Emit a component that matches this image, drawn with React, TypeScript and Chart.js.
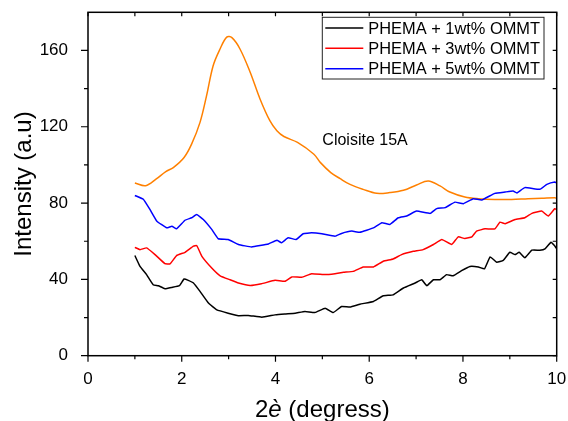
import React, { useEffect, useRef } from "react";
import { Chart, registerables } from "chart.js";

Chart.register(...registerables);

// ---------- data ----------
const xTickValues = [0, 2, 4, 6, 8, 10];
const xMinorTicks = [1, 3, 5, 7, 9];
const yTickValues = [0, 40, 80, 120, 160];
const yMinorTicks = [20, 60, 100, 140];

const xAxisTitleParts = ["2", "è", " (degress)"];
const yAxisTitle = "Intensity (a.u)";

const legendLabels = ["PHEMA + 1wt% OMMT", "PHEMA + 3wt% OMMT", "PHEMA + 5wt% OMMT"];
const cloisiteLabel = "Cloisite 15A";
const cloisiteLabelX = 5.0;
const cloisiteLabelY = 113;

const xBlack = [1.0, 1.11, 1.25, 1.39, 1.5, 1.64, 1.79, 1.95, 2.05, 2.14, 2.25, 2.39, 2.57, 2.75, 2.99, 3.21, 3.42, 3.71, 3.99, 4.2, 4.42, 4.63, 4.84, 5.06, 5.23, 5.41, 5.59, 5.8, 6.09, 6.3, 6.51, 6.73, 6.98, 7.12, 7.23, 7.37, 7.51, 7.65, 7.79, 7.97, 8.15, 8.33, 8.46, 8.58, 8.72, 8.86, 9.0, 9.11, 9.2, 9.32, 9.47, 9.64, 9.75, 9.88, 9.96, 10.0];
const yBlack = [52.5, 46.8, 42.5, 37.2, 36.7, 35.1, 35.8, 36.7, 40.2, 39.5, 38.1, 33.7, 27.6, 24.0, 22.3, 21.0, 21.1, 20.2, 21.4, 21.9, 22.3, 23.2, 22.6, 24.9, 22.6, 25.8, 25.5, 27.0, 28.4, 31.4, 31.9, 35.5, 38.1, 39.8, 36.7, 39.8, 39.8, 42.5, 41.9, 44.6, 46.8, 46.5, 45.5, 51.8, 49.0, 50.0, 54.2, 53.0, 54.2, 51.3, 55.3, 55.3, 56.0, 59.5, 57.5, 56.0];

const xRed = [1.0, 1.11, 1.25, 1.43, 1.64, 1.75, 1.89, 2.07, 2.25, 2.32, 2.43, 2.64, 2.82, 3.03, 3.21, 3.46, 3.7, 3.99, 4.2, 4.35, 4.56, 4.77, 5.06, 5.27, 5.45, 5.66, 5.87, 6.09, 6.3, 6.51, 6.69, 6.94, 7.15, 7.37, 7.55, 7.76, 7.9, 8.04, 8.19, 8.29, 8.47, 8.68, 8.79, 8.9, 9.11, 9.32, 9.47, 9.68, 9.82, 9.96, 10.0];
const yRed = [56.8, 55.6, 56.5, 53.0, 48.3, 48.1, 52.5, 54.2, 57.4, 57.7, 52.1, 46.0, 41.9, 39.8, 38.1, 36.8, 37.7, 39.5, 39.0, 41.3, 41.1, 43.0, 42.5, 43.0, 43.7, 44.2, 46.5, 46.5, 49.5, 50.7, 53.0, 54.7, 55.6, 58.3, 60.9, 58.3, 62.3, 61.4, 62.3, 65.3, 66.5, 66.5, 70.0, 69.2, 71.4, 72.3, 74.6, 75.8, 73.2, 77.1, 76.5];

const xBlue = [1.0, 1.18, 1.32, 1.47, 1.68, 1.79, 1.89, 2.07, 2.21, 2.32, 2.46, 2.64, 2.78, 2.99, 3.21, 3.49, 3.85, 4.03, 4.13, 4.27, 4.44, 4.59, 4.77, 4.99, 5.27, 5.41, 5.63, 5.8, 6.09, 6.27, 6.44, 6.62, 6.8, 7.01, 7.3, 7.44, 7.62, 7.83, 8.01, 8.22, 8.4, 8.68, 8.9, 9.07, 9.15, 9.32, 9.64, 9.79, 9.96, 10.0];
const yBlue = [84.0, 82.0, 76.7, 70.5, 67.0, 67.9, 66.5, 71.0, 72.3, 74.0, 71.4, 66.2, 61.3, 60.9, 58.3, 57.0, 58.6, 60.5, 59.2, 61.8, 60.9, 63.9, 64.4, 63.9, 62.6, 64.1, 65.3, 64.7, 67.0, 69.7, 68.8, 72.3, 73.2, 75.8, 74.6, 77.1, 77.6, 80.5, 79.7, 82.3, 81.6, 85.1, 85.8, 86.3, 85.3, 88.1, 87.2, 89.8, 91.0, 90.5];

const xOrange = [1.0, 1.23, 1.45, 1.66, 1.82, 2.05, 2.21, 2.39, 2.53, 2.67, 2.82, 2.96, 3.07, 3.24, 3.46, 3.67, 3.88, 4.03, 4.18, 4.47, 4.82, 4.96, 5.18, 5.38, 5.59, 5.87, 6.16, 6.44, 6.73, 7.01, 7.26, 7.51, 7.72, 8.04, 8.33, 8.68, 9.04, 9.39, 9.68, 9.96, 10.0];
const yOrange = [90.5, 89.1, 92.5, 96.5, 98.6, 103.9, 110.9, 122.3, 136.3, 152.0, 160.9, 167.0, 166.7, 160.9, 148.6, 134.6, 123.2, 117.9, 114.9, 111.8, 105.6, 101.2, 96.0, 92.8, 89.8, 87.2, 85.1, 85.5, 86.7, 89.5, 91.6, 89.0, 85.8, 83.2, 82.3, 81.9, 81.9, 82.3, 82.5, 82.8, 82.5];

const FONT = "'Liberation Sans', Arial, Helvetica, sans-serif";

const toPoints = (xs: number[], ys: number[]) => xs.map((x, i) => ({ x, y: ys[i] }));

const decorPlugin = {
  id: "decor",
  afterDatasetsDraw(chart: any) {
    const ctx = chart.ctx as CanvasRenderingContext2D;
    const { left, right, top, bottom } = chart.chartArea;
    const xs = chart.scales.x;
    const ys = chart.scales.y;
    ctx.save();
    ctx.strokeStyle = "#000";
    ctx.lineWidth = 1.5;
    ctx.strokeRect(left, top, right - left, bottom - top);
    ctx.lineWidth = 1.2;
    ctx.beginPath();
    const tick = (x1: number, y1: number, x2: number, y2: number) => {
      ctx.moveTo(x1, y1);
      ctx.lineTo(x2, y2);
    };
    xTickValues.forEach((v) => {
      const p = xs.getPixelForValue(v);
      tick(p, bottom, p, bottom + 6);
      tick(p, top, p, top + 4);
    });
    xMinorTicks.forEach((v) => {
      const p = xs.getPixelForValue(v);
      tick(p, bottom, p, bottom + 3.5);
      tick(p, top, p, top + 4);
    });
    yTickValues.forEach((v) => {
      const p = ys.getPixelForValue(v);
      tick(left, p, left - 7, p);
      tick(right, p, right - 4, p);
    });
    yMinorTicks.forEach((v) => {
      const p = ys.getPixelForValue(v);
      tick(left, p, left - 4, p);
      tick(right, p, right - 4, p);
    });
    ctx.stroke();

    ctx.fillStyle = "#000";
    ctx.font = `16px ${FONT}`;
    ctx.textAlign = "left";
    ctx.textBaseline = "middle";
    ctx.fillText(cloisiteLabel, xs.getPixelForValue(cloisiteLabelX), ys.getPixelForValue(cloisiteLabelY));

    // x axis title with italic theta substitute
    const fonts = [`24px ${FONT}`, `italic 24px ${FONT}`, `24px ${FONT}`];
    let total = 0;
    const widths = xAxisTitleParts.map((t, i) => {
      ctx.font = fonts[i];
      const w = ctx.measureText(t).width;
      total += w;
      return w;
    });
    let tx = (left + right) / 2 - total / 2;
    ctx.textBaseline = "alphabetic";
    xAxisTitleParts.forEach((t, i) => {
      ctx.font = fonts[i];
      ctx.fillText(t, tx, 417);
      tx += widths[i];
    });

    const bw = 221.7;
    const bh = 61.7;
    const bx = right - bw - 12.7;
    const by = top + 5;
    ctx.fillStyle = "#fff";
    ctx.fillRect(bx, by, bw, bh);
    ctx.strokeStyle = "#222";
    ctx.lineWidth = 1;
    ctx.strokeRect(bx, by, bw, bh);
    const rows = [10.7, 31, 51.5];
    chart.data.datasets.forEach((ds: any, i: number) => {
      if (!legendLabels.includes(ds.label)) return;
      const ry = by + rows[i];
      ctx.strokeStyle = ds.borderColor;
      ctx.lineWidth = 1.5;
      ctx.beginPath();
      ctx.moveTo(bx + 3, ry);
      ctx.lineTo(bx + 41, ry);
      ctx.stroke();
      ctx.fillStyle = "#000";
      ctx.font = `16.4px ${FONT}`;
      ctx.textBaseline = "middle";
      ctx.fillText(ds.label, bx + 46, ry + 1);
    });
    ctx.restore();
  },
};

export default function App() {
  const ref = useRef<HTMLCanvasElement | null>(null);
  useEffect(() => {
    if (!ref.current) return;
    const chart = new Chart(ref.current, {
      type: "line",
      data: {
        datasets: [
          { label: legendLabels[0], data: toPoints(xBlack, yBlack), borderColor: "#000000", borderWidth: 1.5, pointRadius: 0, tension: 0.1, fill: false },
          { label: legendLabels[1], data: toPoints(xRed, yRed), borderColor: "#ff0000", borderWidth: 1.5, pointRadius: 0, tension: 0.1, fill: false },
          { label: legendLabels[2], data: toPoints(xBlue, yBlue), borderColor: "#0000ff", borderWidth: 1.5, pointRadius: 0, tension: 0.1, fill: false },
          { label: cloisiteLabel, data: toPoints(xOrange, yOrange), borderColor: "#ff8000", borderWidth: 1.5, pointRadius: 0, tension: 0.35, fill: false },
        ],
      },
      options: {
        animation: false,
        responsive: false,
        maintainAspectRatio: false,
        layout: { padding: { left: 0, right: 11.3, top: 12.3, bottom: 0 } },
        plugins: { legend: { display: false }, tooltip: { enabled: false } },
        scales: {
          x: {
            type: "linear",
            min: 0,
            max: 10,
            afterFit: (s: any) => { s.height = 65.3; s.paddingLeft = 0; s.paddingRight = 0; },
            afterBuildTicks: (s: any) => { s.ticks = xTickValues.map((v) => ({ value: v })); },
            grid: { display: false },
            border: { display: false },
            ticks: { color: "#000", font: { family: FONT, size: 17 }, padding: 5, maxRotation: 0, autoSkip: false },
            title: { display: false },
          },
          y: {
            type: "linear",
            min: 0,
            max: 180,
            afterFit: (s: any) => { s.width = 88; s.paddingTop = 0; s.paddingBottom = 0; },
            afterBuildTicks: (s: any) => { s.ticks = yTickValues.map((v) => ({ value: v })); },
            grid: { display: false },
            border: { display: false },
            ticks: { color: "#000", font: { family: FONT, size: 17 }, padding: 12, autoSkip: false },
            title: { display: true, text: yAxisTitle, color: "#000", font: { family: FONT, size: 24, lineHeight: 1 }, padding: { top: 12, bottom: 0 } },
          },
        },
      },
      plugins: [decorPlugin],
    } as any);
    return () => chart.destroy();
  }, []);
  return (
    <div style={{ position: "absolute", left: 0, top: 0, width: 568, height: 421, background: "#fff" }}>
      <canvas ref={ref} width={568} height={421} style={{ display: "block" }} />
    </div>
  );
}
